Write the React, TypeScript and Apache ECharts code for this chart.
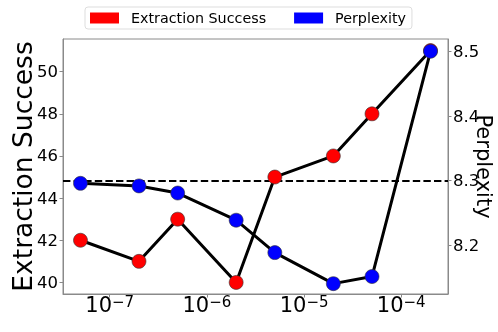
import React, { useEffect, useRef } from "react";
import * as echarts from "echarts";

const learningRates = [5e-8, 2e-7, 5e-7, 2e-6, 5e-6, 2e-5, 5e-5, 2e-4];
const extractionSuccess = [42, 41, 43, 40, 45, 46, 48, 51];
const perplexity = [8.296, 8.292, 8.281, 8.239, 8.189, 8.141, 8.152, 8.5];
const baselinePerplexity = 8.297;
const leftTicks = [40, 42, 44, 46, 48, 50];
const rightTicks = [8.2, 8.3, 8.4, 8.5];
const seriesNames = ["Extraction Success", "Perplexity"];

const FONT = "DejaVu Sans";
const SPINE = "#8a8a8a";

export default function App() {
  const ref = useRef<HTMLDivElement>(null);
  useEffect(() => {
    if (!ref.current) return;
    const chart = echarts.init(ref.current, null, { renderer: "svg" });
    const option: any = {
      animation: false,
      textStyle: { fontFamily: FONT, color: "#000" },
      legend: {
        left: 85,
        top: 7,
        padding: [4, 6, 4, 5],
        itemWidth: 29,
        itemHeight: 11,
        itemGap: 28,
        icon: "rect",
        borderColor: "#dddddd",
        borderWidth: 1,
        borderRadius: 3,
        itemStyle: { borderWidth: 0 },
        textStyle: { fontFamily: FONT, fontSize: 14.3, color: "#000", padding: [0, 0, 0, 7] },
        data: seriesNames,
      },
      grid: {
        left: 63,
        right: 50,
        top: 39,
        bottom: 38,
        containLabel: false,
        outerBoundsMode: "none",
        show: true,
        borderColor: SPINE,
        borderWidth: 1,
      },
      xAxis: {
        type: "log",
        logBase: 10,
        min: 3.304e-8,
        max: 3.027e-4,
        axisLine: { show: true, lineStyle: { color: SPINE, width: 1 } },
        axisTick: { show: true, length: 3.5, lineStyle: { color: SPINE } },
        splitLine: { show: false },
        axisLabel: {
          showMinLabel: false,
          showMaxLabel: false,
          margin: 0,
          formatter: (v: number) => `{b|10}{s|\u2212${Math.abs(Math.round(Math.log10(v)))}}`,
          rich: {
            b: { fontFamily: FONT, fontSize: 21, lineHeight: 21, verticalAlign: "bottom", color: "#000" },
            s: { fontFamily: FONT, fontSize: 15, lineHeight: 15, verticalAlign: "top", padding: [0, 0, 10, 0], color: "#000" },
          },
        },
      },
      yAxis: [
        {
          type: "value",
          position: "left",
          min: 39.45,
          max: 51.55,
          name: "Extraction Success",
          nameLocation: "middle",
          nameRotate: 90,
          nameGap: 27,
          nameMoveOverlap: false,
          nameTextStyle: { fontFamily: FONT, fontSize: 26.5, color: "#000" },
          axisLine: { show: true, lineStyle: { color: SPINE, width: 1 } },
          axisTick: { show: true, length: 3.5, lineStyle: { color: SPINE }, customValues: leftTicks },
          axisLabel: { fontSize: 16.5, color: "#000", margin: 5, customValues: leftTicks, formatter: (v: number) => String(Math.round(v)) },
          splitLine: { show: false },
        },
        {
          type: "value",
          position: "right",
          min: 8.125,
          max: 8.519,
          name: "Perplexity",
          nameLocation: "middle",
          nameRotate: -90,
          nameGap: 25,
          nameMoveOverlap: false,
          nameTextStyle: { fontFamily: FONT, fontSize: 21, color: "#000" },
          axisLine: { show: true, lineStyle: { color: SPINE, width: 1 } },
          axisTick: { show: true, length: 3.5, lineStyle: { color: SPINE }, customValues: rightTicks },
          axisLabel: { fontSize: 16.5, color: "#000", margin: 5, customValues: rightTicks, formatter: (v: number) => v.toFixed(1) },
          splitLine: { show: false },
        },
      ],
      series: [
        {
          name: seriesNames[0],
          type: "line",
          yAxisIndex: 0,
          data: learningRates.map((x, i) => [x, extractionSuccess[i]]),
          symbol: "circle",
          symbolSize: 14,
          itemStyle: { color: "#ff0000", borderColor: "#333", borderWidth: 0.6 },
          lineStyle: { color: "#000", width: 3 },
          z: 3,
        },
        {
          name: seriesNames[1],
          type: "line",
          yAxisIndex: 1,
          data: learningRates.map((x, i) => [x, perplexity[i]]),
          symbol: "circle",
          symbolSize: 14,
          itemStyle: { color: "#0000ff", borderColor: "#333", borderWidth: 0.6 },
          lineStyle: { color: "#000", width: 3 },
          z: 3,
          markLine: {
            silent: true,
            z: 1,
            symbol: ["none", "none"],
            label: { show: false },
            lineStyle: { color: "#000", width: 2, type: [7.4, 3.2] },
            data: [{ yAxis: baselinePerplexity }],
          },
        },
      ],
    };
    chart.setOption(option);
    return () => chart.dispose();
  }, []);
  return <div ref={ref} style={{ position: "fixed", left: 0, top: 0, width: 498, height: 332 }} />;
}
